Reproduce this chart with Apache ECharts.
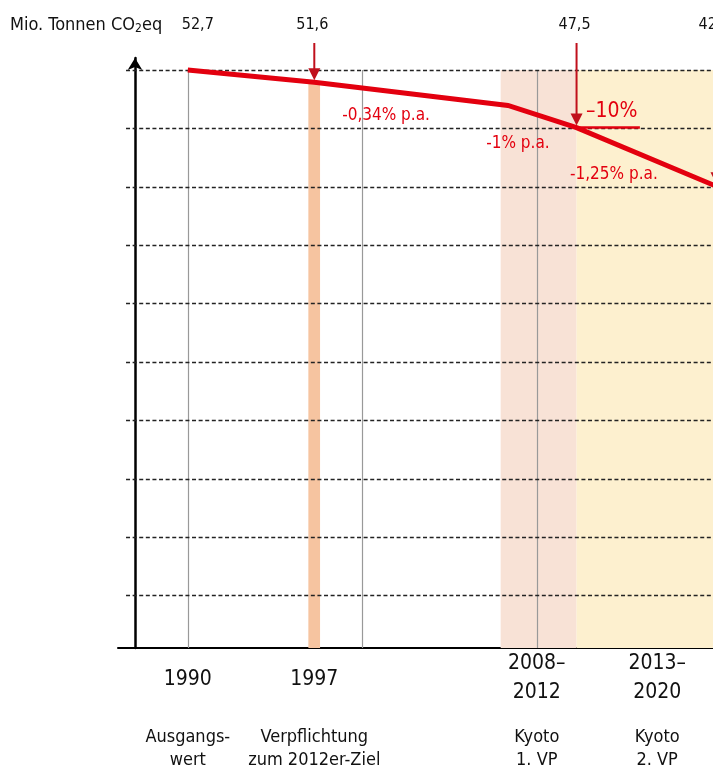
<!DOCTYPE html>
<html><head><meta charset="utf-8">
<script src="https://cdn.jsdelivr.net/npm/echarts@6/dist/echarts.min.js"></script>
<style>html,body{margin:0;padding:0;background:#fff}#c{width:713px;height:771px}</style>
</head><body><div id="c"></div><script>
// ---------- data ----------
const emissionYears  = [1990, 1997.25, 2008.35, 2012.28, 2020.3];
const emissionValues = [52.7, 51.6, 49.5, 47.5, 42.2];
const valueLabels    = ['52,7', '51,6', '', '47,5', '42,2'];
const arrowIndices   = [1, 3, 4];
const gridLevels     = [52.7, 47.43, 42.16, 36.89, 31.62, 26.35, 21.08, 15.81, 10.54, 5.27];
const referenceYears = [1990, 2000, 2010];
const commitmentBand = [1996.91, 1997.58];
const kyoto1Band     = [2007.93, 2012.28];
const kyoto2Band     = [2012.28, 2021];
const periodLabels   = ['1990', '1997', '2008–\n2012', '2013–\n2020'];
const periodYears    = [1990, 1997.25, 2010, 2016.9];
const periodNotes    = ['Ausgangs-\nwert', 'Verpflichtung\nzum 2012er-Ziel', 'Kyoto\n1. VP', 'Kyoto\n2. VP'];
const rateLabels     = ['-0,34% p.a.', '-1% p.a.', '-1,25% p.a.'];
const targetLabel    = '–10%';
const yTitle         = 'Mio. Tonnen CO';

// ---------- layout ----------
const FONT = '"Liberation Sans Narrow","DejaVu Sans Condensed","Liberation Sans",sans-serif';
const RED = '#e3000f', DARKRED = '#c0101c';
const X_MIN = 1986, X_MAX = 2020.1, Y_MIN = 0.55, Y_MAX = 53.78;
const rateLabelAnchors = [[2001.36, 48.55], [2008.92, 46.02], [2014.42, 43.23]];
const targetAnchor = [2014.3, 48.91];
const targetLineEnd = 2015.91;

const chart = echarts.init(document.getElementById('c'), null, {renderer: 'canvas'});

const topLevel = gridLevels[0];
const option = {
  animation: false,
  backgroundColor: '#fff',
  grid: {left: 118, right: 0, top: 58, bottom: 123},
  xAxis: {
    type: 'value', min: X_MIN, max: X_MAX,
    axisLine: {show: true, onZero: false, lineStyle: {color: '#000', width: 2}},
    axisTick: {show: false}, axisLabel: {show: false}, splitLine: {show: false}
  },
  yAxis: {
    type: 'value', min: Y_MIN, max: Y_MAX, offset: -17,
    axisLine: {show: true, onZero: false, symbol: ['none', 'arrow'], symbolSize: [11, 12],
      lineStyle: {color: '#000', width: 2.5}},
    axisTick: {show: false}, axisLabel: {show: false}, splitLine: {show: false}
  },
  series: [
    {
      type: 'scatter', data: [], z: 1, silent: true,
      markArea: {
        silent: true,
        label: {show: false},
        data: [
          [{xAxis: commitmentBand[0], yAxis: Y_MIN, itemStyle: {color: '#f6c4a0'}}, {xAxis: commitmentBand[1], yAxis: emissionValues[1]}],
          [{xAxis: kyoto1Band[0], yAxis: Y_MIN, itemStyle: {color: '#f8e2d6'}}, {xAxis: kyoto1Band[1], yAxis: topLevel}],
          [{xAxis: kyoto2Band[0], yAxis: Y_MIN, itemStyle: {color: '#fdf0cf'}}, {xAxis: kyoto2Band[1], yAxis: topLevel}]
        ]
      }
    },
    {
      type: 'scatter', data: [], z: 2, silent: true,
      markLine: {
        silent: true, symbol: 'none', label: {show: false},
        lineStyle: {color: '#999', width: 1.2, type: 'solid'},
        data: referenceYears.map(y => [{coord: [y, Y_MIN]}, {coord: [y, topLevel]}])
      }
    },
    {
      type: 'scatter', data: [], z: 3, silent: true,
      markLine: {
        silent: true, symbol: 'none', label: {show: false},
        lineStyle: {color: '#222', width: 1.3, type: [4, 2.6]},
        data: gridLevels.map(v => [{coord: [1986.46, v]}, {coord: [X_MAX, v]}])
      }
    },
    {
      type: 'line', z: 10, symbol: 'none', silent: true,
      lineStyle: {color: RED, width: 5, join: 'miter'},
      data: emissionYears.map((y, i) => [y, emissionValues[i]])
    }
  ]
};
chart.setOption(option);

// ---------- annotations via the chart's scales ----------
const px = (x, y) => chart.convertToPixel({gridIndex: 0}, [x, y]);
const g = [];
const txt = (x, y, text, size, color, align, extra) => g.push(Object.assign({
  type: 'text', x, y, z: 50, silent: true,
  style: Object.assign({text, font: size + 'px ' + FONT, fill: color, align: align || 'center', verticalAlign: 'middle'}, extra || {})
}));

// title with subscript
g.push({type: 'text', x: 10, y: 25, z: 50, silent: true, style: {
  text: '{m|' + yTitle + '}{s|2}{m|eq}', verticalAlign: 'middle', align: 'left',
  rich: {m: {font: '18px ' + FONT, fill: '#111'}, s: {font: '12px ' + FONT, fill: '#111', padding: [8, 0, 0, 0]}}
}});

// value labels on top
valueLabels.forEach((t, i) => {
  if (!t) return;
  const p = px(emissionYears[i], emissionValues[i]);
  txt(p[0] + (i === 0 ? 10 : -2), 25, t, 16, '#111');
});

// arrows
arrowIndices.forEach(i => {
  const p = px(emissionYears[i], emissionValues[i]);
  const tip = p[1] - 2;
  g.push({type: 'line', z: 40, silent: true, shape: {x1: p[0], y1: 43, x2: p[0], y2: tip - 8},
    style: {stroke: DARKRED, lineWidth: 2}});
  g.push({type: 'polygon', z: 40, silent: true, shape: {points: [[p[0] - 6, tip - 12], [p[0] + 6, tip - 12], [p[0], tip]]},
    style: {fill: DARKRED}});
});

// -10% marker
const p3 = px(emissionYears[3], emissionValues[3]);
const pe = px(targetLineEnd, emissionValues[3]);
g.push({type: 'line', z: 40, silent: true, shape: {x1: p3[0], y1: p3[1], x2: pe[0], y2: p3[1]},
  style: {stroke: RED, lineWidth: 2.5}});
const ta = px(targetAnchor[0], targetAnchor[1]);
txt(ta[0], ta[1], targetLabel, 21, RED);

// rate labels
rateLabels.forEach((t, i) => {
  const a = px(rateLabelAnchors[i][0], rateLabelAnchors[i][1]);
  txt(a[0], a[1], t, 17, RED);
});

// period labels under the axis
periodLabels.forEach((t, i) => {
  const a = px(periodYears[i], Y_MIN);
  const lines = t.split('\n');
  if (lines.length === 1) txt(a[0], 680, t, 21, '#111');
  else { txt(a[0], 664, lines[0], 21, '#111'); txt(a[0], 693, lines[1], 21, '#111'); }
  const n = periodNotes[i].split('\n');
  txt(a[0], 737, n[0], 18, '#111');
  txt(a[0], 760, n[1], 18, '#111');
});

chart.setOption({graphic: {elements: g}});
</script></body></html>
